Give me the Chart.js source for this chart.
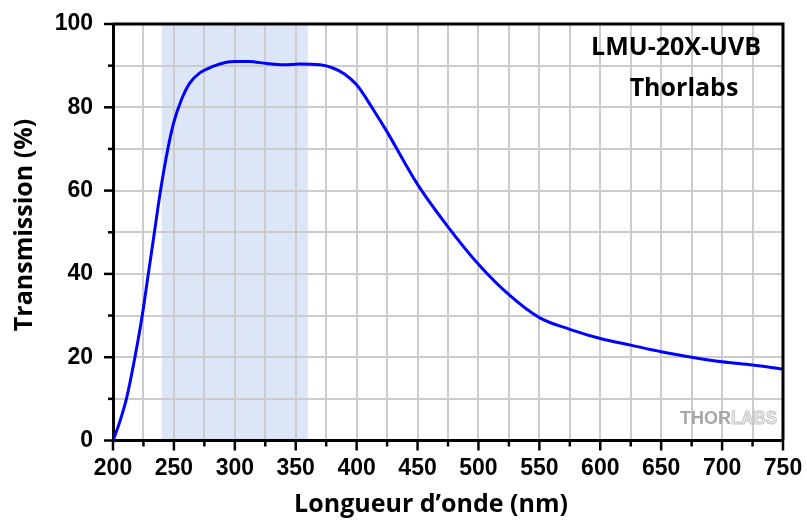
<!DOCTYPE html>
<html>
<head>
<meta charset="utf-8">
<script src="https://cdn.jsdelivr.net/npm/chart.js@4/dist/chart.umd.min.js"></script>
<style>
  html, body { margin: 0; padding: 0; background: #fff; }
  #wrap { width: 807px; height: 524px; }
</style>
</head>
<body>
<div id="wrap"><canvas id="transChart" width="807" height="524"></canvas></div>
<script>
const wavelengths = [200, 205, 211, 218, 224, 229, 234, 239, 245, 250, 256, 263, 271, 282, 293, 300, 312, 326, 340, 353, 370, 380, 390, 400, 414, 425, 450, 475, 500, 525, 550, 575, 600, 625, 650, 675, 700, 725, 750];
const transmission = [0, 4, 10, 20, 30, 40, 50, 60, 70, 76.5, 81.7, 85.8, 88.2, 89.8, 90.8, 91, 91, 90.5, 90.2, 90.4, 90.2, 89.5, 88, 85.4, 79.3, 74.1, 61.5, 51.3, 42.3, 35, 29.5, 26.7, 24.5, 22.9, 21.3, 20, 18.9, 18.1, 17.1];
const bandRange = [240, 360];
const xTitle = "Longueur d\u2019onde (nm)";
const yTitle = "Transmission (%)";
const notes = ["LMU-20X-UVB", "Thorlabs"];

const tickFont = { family: "'Liberation Sans', Arial, sans-serif", size: 23, weight: "bold" };

const decorPlugin = {
  id: "decor",
  beforeDraw(chart) {
    const { ctx, chartArea, scales } = chart;
    const x0 = scales.x.getPixelForValue(bandRange[0]);
    const x1 = scales.x.getPixelForValue(bandRange[1]);
    ctx.save();
    ctx.fillStyle = "#dce6f7";
    ctx.fillRect(x0, chartArea.top, x1 - x0, chartArea.bottom - chartArea.top);
    ctx.restore();
  },
  afterDraw(chart) {
    const { ctx, chartArea, scales } = chart;
    ctx.save();
    ctx.strokeStyle = "#000";
    ctx.lineWidth = 3;
    ctx.beginPath();
    ctx.moveTo(chartArea.left, chartArea.top);
    ctx.lineTo(chartArea.right, chartArea.top);
    ctx.lineTo(chartArea.right, chartArea.bottom);
    ctx.stroke();

    ctx.lineWidth = 2.5;
    scales.y.ticks.forEach((t) => {
      const py = scales.y.getPixelForValue(t.value);
      const len = t.value % 20 === 0 ? 9 : 5;
      ctx.beginPath();
      ctx.moveTo(chartArea.left - len, py);
      ctx.lineTo(chartArea.left, py);
      ctx.stroke();
    });
    scales.x.ticks.forEach((t) => {
      const px = scales.x.getPixelForValue(t.value);
      const len = t.value % 50 === 0 ? 10 : 6;
      ctx.beginPath();
      ctx.moveTo(px, chartArea.bottom);
      ctx.lineTo(px, chartArea.bottom + len);
      ctx.stroke();
    });

    ctx.fillStyle = "#000";
    ctx.textAlign = "center";
    ctx.textBaseline = "middle";
    ctx.font = "bold 25px 'Open Sans', sans-serif";
    ctx.fillText(xTitle, 431, 505, 288);
    ctx.save();
    ctx.translate(25, 225);
    ctx.rotate(-Math.PI / 2);
    ctx.fillText(yTitle, 0, 0, 216);
    ctx.restore();

    ctx.fillText(notes[0], 676, 48, 183);
    ctx.fillText(notes[1], 684, 89, 112);

    ctx.font = "bold 18px 'Liberation Sans', Arial, sans-serif";
    ctx.textAlign = "left";
    const thorW = Math.min(ctx.measureText("THOR").width, 55);
    ctx.fillStyle = "#a6a6a6";
    ctx.fillText("THOR", 680, 419, 55);
    ctx.fillStyle = "#eeeeee";
    ctx.strokeStyle = "#c4c4c4";
    ctx.lineWidth = 1;
    ctx.fillText("LABS", 680 + thorW, 419, 97 - thorW);
    ctx.strokeText("LABS", 680 + thorW, 419, 97 - thorW);
    ctx.restore();
  }
};

new Chart(document.getElementById("transChart"), {
  type: "line",
  data: {
    datasets: [
      {
        label: "LMU-20X-UVB",
        data: wavelengths.map((w, i) => ({ x: w, y: transmission[i] })),
        borderColor: "#0000ff",
        borderWidth: 3,
        pointRadius: 0,
        cubicInterpolationMode: "monotone",
        fill: false
      }
    ]
  },
  options: {
    responsive: false,
    animation: false,
    layout: { padding: { top: 24, right: 24, bottom: 0, left: 0 } },
    plugins: { legend: { display: false }, tooltip: { enabled: false } },
    scales: {
      x: {
        type: "linear",
        min: 200,
        max: 750,
        afterFit(scale) {
          scale.height = 83.5;
          scale.paddingLeft = 0;
          scale.paddingRight = 0;
        },
        grid: { color: "#cccccc", lineWidth: 2, drawTicks: false },
        border: { color: "#000", width: 3 },
        ticks: {
          stepSize: 25,
          autoSkip: false,
          maxRotation: 0,
          padding: 14,
          color: "#000",
          font: tickFont,
          callback: (v) => (v % 50 === 0 ? v : "")
        }
      },
      y: {
        min: 0,
        max: 100,
        afterFit(scale) {
          scale.width = 113;
          scale.paddingTop = 0;
          scale.paddingBottom = 0;
        },
        grid: { color: "#cccccc", lineWidth: 2, drawTicks: false },
        border: { color: "#000", width: 3 },
        ticks: {
          stepSize: 10,
          autoSkip: false,
          padding: 20,
          color: "#000",
          font: tickFont,
          callback: (v) => (v % 20 === 0 ? v : "")
        }
      }
    }
  },
  plugins: [decorPlugin]
});
</script>
</body>
</html>
